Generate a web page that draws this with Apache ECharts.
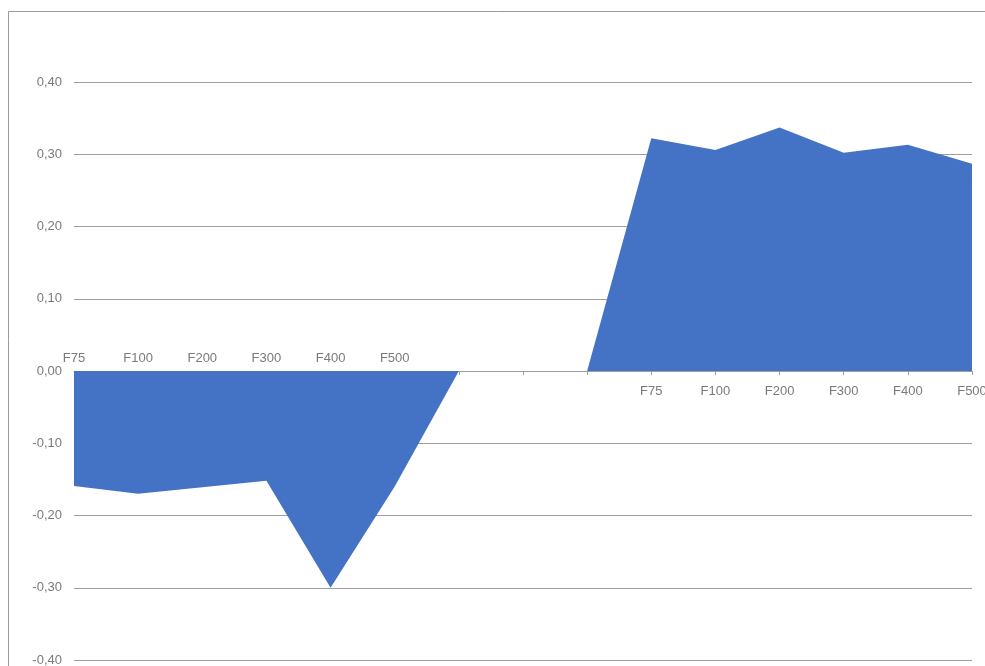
<!DOCTYPE html>
<html>
<head>
<meta charset="utf-8">
<script src="https://cdn.jsdelivr.net/npm/echarts@6/dist/echarts.min.js"></script>
<style>
  html, body { margin: 0; padding: 0; background: #ffffff; }
  #chart { width: 985px; height: 666px; }
</style>
</head>
<body>
<div id="chart"></div>
<script>
// Category labels of each group
var groupLabels = ['F75', 'F100', 'F200', 'F300', 'F400', 'F500'];
// Category slots: group 1, three empty slots, group 2
var categories = ['F75', 'F100', 'F200', 'F300', 'F400', 'F500', '', '', '', 'F75', 'F100', 'F200', 'F300', 'F400', 'F500'];
// Series values (null = no value in that slot)
var series1Name = 'Серия 1';
var series2Name = 'Серия 2';
var series1Values = [-0.159, -0.17, -0.161, -0.152, -0.30, -0.16, 0, null, null, null, null, null, null, null, null];
var series2Values = [null, null, null, null, null, null, null, null, 0, 0.322, 0.306, 0.337, 0.302, 0.313, 0.287];
// Value axis ticks
var yMin = -0.4, yMax = 0.4, yStep = 0.1;

var axisColor = '#9e9e9e';
var labelColor = '#7a7a7a';
var areaColor = '#4472C4';
var fontFam = '"Liberation Sans", Arial, sans-serif';

// layout
var gTop = 82, gBottom = 6, gLeft = 74, gRight = 13, H = 666;
var plotH = H - gTop - gBottom;
var zeroY = gTop + plotH * (yMax - 0) / (yMax - yMin);

var chart = echarts.init(document.getElementById('chart'), null, { renderer: 'canvas' });

var option = {
  animation: false,
  backgroundColor: '#ffffff',
  grid: [
    { left: gLeft, right: gRight, top: gTop, bottom: gBottom, containLabel: false, outerBoundsMode: 'none' },
    // helper grid whose bottom edge sits on the zero level: hosts the category axes
    { left: gLeft, right: gRight, top: gTop, bottom: H - zeroY, containLabel: false, outerBoundsMode: 'none' }
  ],
  xAxis: [
    {
      gridIndex: 0,
      type: 'category',
      data: categories,
      boundaryGap: false,
      axisLine: { show: false },
      axisTick: { show: false },
      axisLabel: { show: false },
      splitLine: { show: false }
    },
    {
      gridIndex: 1,
      type: 'category',
      data: categories,
      boundaryGap: false,
      position: 'bottom',
      axisLine: { show: true, onZero: false, lineStyle: { color: axisColor, width: 1 } },
      axisTick: { show: true, interval: 0, length: 4, lineStyle: { color: axisColor } },
      axisLabel: {
        interval: 0,
        margin: 14,
        color: labelColor,
        fontSize: 13,
        fontFamily: fontFam,
        formatter: function (v, i) { return i >= 9 ? v : ''; }
      },
      splitLine: { show: false }
    },
    {
      gridIndex: 1,
      type: 'category',
      data: categories,
      boundaryGap: false,
      position: 'bottom',
      axisLine: { show: false, onZero: false },
      axisTick: { show: false },
      axisLabel: {
        inside: true,
        interval: 0,
        margin: 6,
        color: labelColor,
        fontSize: 13,
        fontFamily: fontFam,
        formatter: function (v, i) { return i < groupLabels.length ? v : ''; }
      },
      splitLine: { show: false }
    }
  ],
  yAxis: [
    {
      gridIndex: 0,
      type: 'value',
      min: yMin,
      max: yMax,
      interval: yStep,
      axisLine: { show: false },
      axisTick: { show: false },
      axisLabel: {
        margin: 12,
        color: labelColor,
        fontSize: 13,
        fontFamily: fontFam,
        formatter: function (v) { return v.toFixed(2).replace('.', ','); }
      },
      splitLine: { show: true, lineStyle: { color: axisColor, width: 1 } }
    },
    {
      gridIndex: 1,
      type: 'value',
      min: 0,
      max: yMax,
      show: false
    }
  ],
  series: [
    {
      name: series1Name,
      type: 'line',
      xAxisIndex: 0,
      yAxisIndex: 0,
      data: series1Values,
      symbol: 'none',
      lineStyle: { width: 0, color: areaColor },
      itemStyle: { color: areaColor },
      areaStyle: { color: areaColor, opacity: 1, origin: 0 },
      connectNulls: false
    },
    {
      name: series2Name,
      type: 'line',
      xAxisIndex: 0,
      yAxisIndex: 0,
      data: series2Values,
      symbol: 'none',
      lineStyle: { width: 0, color: areaColor },
      itemStyle: { color: areaColor },
      areaStyle: { color: areaColor, opacity: 1, origin: 0 },
      connectNulls: false
    }
  ],
  graphic: [
    {
      type: 'rect',
      silent: true,
      shape: { x: 8.5, y: 11.5, width: 1100, height: 800 },
      style: { fill: 'none', stroke: '#9a9a9a', lineWidth: 1 }
    },
    {
      type: 'text',
      x: 253, y: 418,
      style: {
        text: series1Name, fill: '#ffffff', font: 'bold 17px "Liberation Sans", Arial, sans-serif',
        textAlign: 'center', textVerticalAlign: 'middle'
      }
    },
    {
      type: 'text',
      x: 818, y: 338,
      style: {
        text: series2Name, fill: '#ffffff', font: 'bold 17px "Liberation Sans", Arial, sans-serif',
        textAlign: 'center', textVerticalAlign: 'middle'
      }
    }
  ]
};

chart.setOption(option);
</script>
</body>
</html>
